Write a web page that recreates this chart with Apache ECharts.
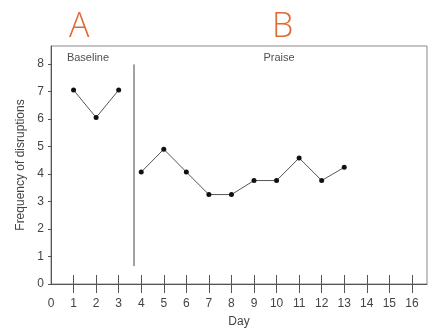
<!DOCTYPE html>
<html><head><meta charset="utf-8">
<script src="https://cdn.jsdelivr.net/npm/echarts@6/dist/echarts.min.js"></script>
<style>html,body{margin:0;padding:0;background:#fff}#c{width:438px;height:336px}</style>
</head><body><div id="c"></div>
<script>
const baselineDays = [1,2,3];
const baselineValues = [7.05,6.05,7.05];
const praiseDays = [4,5,6,7,8,9,10,11,12,13];
const praiseValues = [4.07,4.9,4.07,3.25,3.25,3.76,3.76,4.58,3.76,4.24];
const xTickLabels = [0,1,2,3,4,5,6,7,8,9,10,11,12,13,14,15,16];
const yTickLabels = [0,1,2,3,4,5,6,7,8];
const phaseLineX = 3.68;
const phaseLineY = [0.65, 7.98];
const phaseNames = ['Baseline','Praise'];
const phaseNameX = [1.64, 10.11];
const phaseLetters = ['A','B'];

const chart = echarts.init(document.getElementById('c'));
const xBase = {
  type:'value', min:0, max:16.67, interval:1, position:'bottom',
  splitLine:{show:false}
};
chart.setOption({
  animation:false,
  grid:{left:51, right:11, top:46, bottom:52, show:true, borderColor:'#8a8a8a', borderWidth:1},
  graphic:[
    {type:'text', left:69, top:10, style:{text:phaseLetters[0], fontSize:34, fontFamily:'Open Sans', fontWeight:300, fill:'#e06a35'}},
    {type:'text', left:272, top:10, style:{text:phaseLetters[1], fontSize:34, fontFamily:'Open Sans', fontWeight:300, fill:'#e06a35'}}
  ],
  xAxis:[
    Object.assign({}, xBase, {
      name:'Day', nameLocation:'middle', nameGap:32,
      nameTextStyle:{fontSize:12, color:'#444', fontFamily:'Liberation Sans'},
      axisLine:{show:true, lineStyle:{color:'#555', width:1}},
      axisTick:{show:true, inside:false, length:9, lineStyle:{color:'#555'}, customValues:xTickLabels.slice(1)},
      axisLabel:{fontSize:12, color:'#444', fontFamily:'Liberation Sans', margin:14, customValues:xTickLabels}
    }),
    Object.assign({}, xBase, {
      axisLine:{show:false},
      axisTick:{show:true, inside:true, length:9, lineStyle:{color:'#555'}, customValues:xTickLabels.slice(1)},
      axisLabel:{show:false}
    })
  ],
  yAxis:{
    type:'value', min:0, max:8.65, interval:1,
    name:'Frequency of disruptions', nameLocation:'middle', nameGap:24, nameRotate:90,
    nameTextStyle:{fontSize:12, color:'#444', fontFamily:'Liberation Sans'},
    splitLine:{show:false},
    axisLine:{show:true, lineStyle:{color:'#555'}},
    axisTick:{show:true, length:3, lineStyle:{color:'#555'}, customValues:yTickLabels},
    axisLabel:{fontSize:12, color:'#444', fontFamily:'Liberation Sans', margin:7, customValues:yTickLabels}
  },
  series:[
    {type:'line', data:baselineDays.map((d,i)=>[d,baselineValues[i]]), symbol:'circle', symbolSize:5,
     itemStyle:{color:'#111'}, lineStyle:{color:'#555', width:1}},
    {type:'line', data:praiseDays.map((d,i)=>[d,praiseValues[i]]), symbol:'circle', symbolSize:5,
     itemStyle:{color:'#111'}, lineStyle:{color:'#555', width:1}},
    {type:'line', data:[[phaseLineX,phaseLineY[0]],[phaseLineX,phaseLineY[1]]], symbol:'none',
     lineStyle:{color:'#444', width:1}},
    {type:'scatter', data:phaseNames.map((n,i)=>({value:[phaseNameX[i],8.22], name:n})), symbolSize:0,
     label:{show:true, position:'inside', formatter:p=>p.name, fontSize:11, color:'#222', fontFamily:'Liberation Sans'}}
  ]
});
</script></body></html>
